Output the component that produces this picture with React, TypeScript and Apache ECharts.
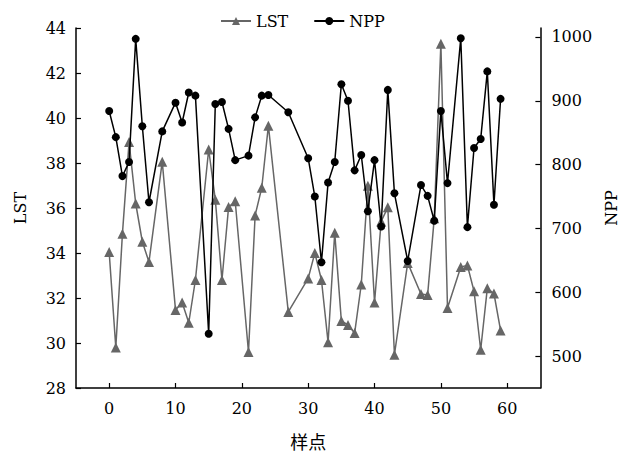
import React, { useEffect, useRef } from "react";
import * as echarts from "echarts";

const sampleIds = [0, 1, 2, 3, 4, 5, 6, 8, 10, 11, 12, 13, 15, 16, 17, 18, 19, 21, 22, 23, 24, 27, 30, 31, 32, 33, 34, 35, 36, 37, 38, 39, 40, 41, 42, 43, 45, 47, 48, 49, 50, 51, 53, 54, 55, 56, 57, 58, 59];
const lstValues = [34.04, 29.8, 34.86, 38.93, 36.2, 34.5, 33.6, 38.06, 31.47, 31.8, 30.9, 32.8, 38.6, 36.37, 32.8, 36.04, 36.3, 29.6, 35.67, 36.9, 39.66, 31.38, 32.87, 34.0, 32.8, 30.03, 34.9, 30.98, 30.8, 30.44, 32.6, 36.99, 31.8, 35.4, 36.03, 29.48, 33.56, 32.18, 32.13, 35.54, 43.3, 31.56, 33.38, 33.45, 32.3, 29.7, 32.43, 32.2, 30.56];
const nppValues = [884, 843, 782, 804, 997, 860, 741, 852, 897, 866, 913, 908, 535, 895, 898, 856, 807, 814, 874, 908, 909, 882, 810, 750, 647, 772, 804, 926, 900, 791, 815, 727, 807, 703, 917, 755, 649, 768, 751, 712, 884, 771, 998, 702, 826, 840, 946, 737, 903];
const xTicks = [0, 10, 20, 30, 40, 50, 60];
const nppTicks = [500, 600, 700, 800, 900, 1000];

const FONT = "'DejaVu Serif', 'Liberation Serif', serif";
const CJK = "'Noto Sans CJK SC', sans-serif";

export default function App() {
  const ref = useRef<HTMLDivElement>(null);
  useEffect(() => {
    document.body.style.margin = "0";
    if (!ref.current) return;
    const chart = echarts.init(ref.current, null, { renderer: "svg" });
    const axisLine = { show: true, onZero: false, lineStyle: { color: "#000", width: 1.5 } };
    const axisTick = { show: true, inside: true, length: 5, lineStyle: { color: "#000", width: 1.2 } };
    const plain = (v: number) => String(v);
    chart.setOption({
      animation: false,
      backgroundColor: "#fff",
      grid: { left: 76, right: 79, top: 28, bottom: 72, containLabel: false },
      legend: {
        left: 215,
        top: 8,
        itemWidth: 30,
        itemHeight: 10,
        itemGap: 25,
        textStyle: { fontFamily: FONT, fontSize: 16, color: "#000" },
        data: ["LST", "NPP"],
      },
      xAxis: {
        type: "value",
        min: -5,
        max: 65,
        name: "样点",
        nameLocation: "middle",
        nameGap: 44,
        nameTextStyle: { fontFamily: CJK, fontSize: 18, color: "#000" },
        axisLine,
        axisTick: { ...axisTick, customValues: xTicks },
        axisLabel: { customValues: xTicks, formatter: plain, margin: 12, fontFamily: FONT, fontSize: 16, color: "#000" },
        splitLine: { show: false },
      },
      yAxis: [
        {
          type: "value",
          min: 28,
          max: 44,
          interval: 2,
          position: "left",
          name: "LST",
          nameLocation: "middle",
          nameGap: 48,
          nameTextStyle: { fontFamily: FONT, fontSize: 16, color: "#000" },
          axisLine,
          axisTick,
          axisLabel: { formatter: plain, margin: 10, fontFamily: FONT, fontSize: 16, color: "#000" },
          splitLine: { show: false },
        },
        {
          type: "value",
          min: 450,
          max: 1014,
          position: "right",
          name: "NPP",
          nameLocation: "middle",
          nameGap: 56,
          nameTextStyle: { fontFamily: FONT, fontSize: 16, color: "#000" },
          axisLine,
          axisTick: { ...axisTick, customValues: nppTicks },
          axisLabel: { customValues: nppTicks, formatter: plain, margin: 11, fontFamily: FONT, fontSize: 16, color: "#000" },
          splitLine: { show: false },
        },
      ],
      series: [
        {
          name: "LST",
          type: "line",
          yAxisIndex: 0,
          data: sampleIds.map((x, i) => [x, lstValues[i]]),
          symbol: "triangle",
          symbolSize: 10,
          lineStyle: { color: "#666", width: 1.5 },
          itemStyle: { color: "#666" },
          z: 2,
        },
        {
          name: "NPP",
          type: "line",
          yAxisIndex: 1,
          data: sampleIds.map((x, i) => [x, nppValues[i]]),
          symbol: "circle",
          symbolSize: 8,
          lineStyle: { color: "#000", width: 1.5 },
          itemStyle: { color: "#000" },
          z: 3,
        },
      ],
    });
    return () => chart.dispose();
  }, []);
  return <div ref={ref} style={{ width: 627, height: 460 }} />;
}
